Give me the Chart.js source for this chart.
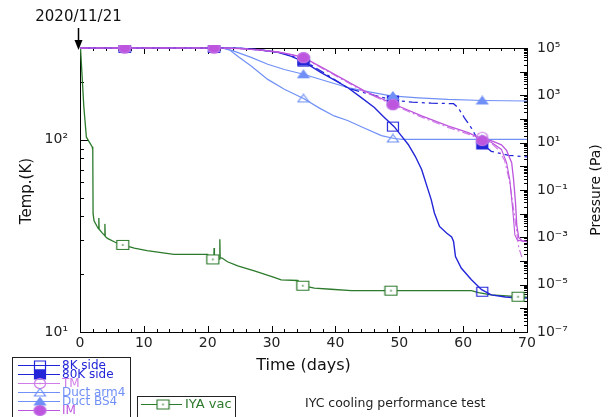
<!DOCTYPE html>
<html>
<head>
<meta charset="utf-8">
<script src="https://cdn.jsdelivr.net/npm/chart.js@4.4.1/dist/chart.umd.min.js"></script>
<style>
  html, body { margin: 0; padding: 0; background: #fff; }
  #wrap { width: 613px; height: 417px; }
</style>
</head>
<body>
<div id="wrap"><canvas id="coolingChart" width="613" height="417"></canvas></div>
<script>
const fontFamily = '"DejaVu Sans", "Liberation Sans", sans-serif';

// axis ticks
const dayTicks = [0, 10, 20, 30, 40, 50, 60, 70];
const tempTicks = [10, 100];
const tempTickLabels = ['10¹', '10²'];
const pressTicks = [1e-7, 1e-5, 1e-3, 1e-1, 1e1, 1e3, 1e5];
const pressTickLabels = ['10⁻⁷', '10⁻⁵', '10⁻³', '10⁻¹', '10¹', '10³', '10⁵'];

// marker days (temperature sensors)
const markerDays = [7, 21, 35, 49, 63];

// 8K side (K)
const side8kDays = [0, 22, 25, 28, 31, 33, 35, 37.7, 39.8, 41.9, 44, 46.1, 47.5, 49.2, 50.3, 51.4, 52.5, 53.5, 54.5, 55.0, 55.5, 56.3, 57.4, 58.2, 58.5, 58.8, 59.7, 61.3, 62.9, 64.4, 66.6, 68.6, 70];
const side8kTemp = [300, 300, 299, 294, 285, 272, 255, 224, 205, 187, 166, 147, 132, 117, 105, 94.5, 82, 70, 55, 48.8, 41.6, 35.4, 32.7, 31.2, 29.6, 24.7, 21.5, 18.7, 16.6, 15.6, 15.2, 15.0, 15.0];
const side8kMarks = [300, 300, 255, 117, 16.2];

// 80K side (K)
const side80kDays = [0, 22, 25, 28, 31, 33, 35, 38, 42, 45.5, 49.2, 52, 55, 58.5, 59.2, 60.2, 61.3, 62.3, 63.1, 64.4, 67.1, 70];
const side80kTemp = [300, 300, 299, 294, 285, 274, 258, 225, 185, 172, 160, 157, 155, 154, 147, 130, 115, 100, 94.5, 87, 83, 81.5];
const side80kMarks = [300, 300, 258, 160, 94.5];

// TM (K)
const tmDays = [0, 22, 25, 28, 31, 33, 35, 39.3, 44.6, 49.2, 53.5, 57.6, 60.8, 62.9, 64.4, 65.5, 66.5, 67.3, 67.8, 68.3, 68.7, 69.2];
const tmTemp = [300, 300, 298, 293, 286, 277, 266, 222, 177, 151, 131, 116, 107, 100, 96, 89, 78, 60, 46, 35, 27.5, 24.5];
const tmMarks = [300, 300, 268, 153, 103];

// IM (K)
const imDays = [0, 22, 25, 28, 31, 33, 35, 39.3, 44.6, 49.2, 53.5, 57.6, 60.8, 62.9, 64.4, 66.0, 66.8, 67.6, 67.9, 68.2, 68.4, 68.7, 69.2, 70];
const imTemp = [300, 300, 298, 293, 286, 278, 268, 224, 179, 153, 133, 118, 109, 101, 99, 94, 88, 76, 62, 47, 36, 31, 29.8, 29.5];
const imMarks = [300, 300, 267, 152, 99];

// second IM trace, end of run
const im2Days = [62.9, 64.4, 66.0, 66.8, 67.3, 67.8, 68.1, 68.5, 70];
const im2Temp = [101, 97, 89, 76, 62, 42, 32, 30, 29.5];

// Duct arm4 (K)
const arm4Days = [0, 22.3, 23.5, 24.8, 26.8, 29.4, 32, 35, 37.5, 39.8, 41.9, 44.5, 47.2, 49.2, 50.5, 70];
const arm4Temp = [300, 300, 292, 270, 242, 206, 183, 164, 146, 133, 126, 115, 105, 101.5, 100.5, 100.5];
const arm4Marks = [300, 300, 164, 101.5, 100.5];

// Duct BS4 (K)
const bs4Days = [0, 22.3, 24, 26.8, 29.4, 32, 35, 38.5, 41.9, 45.5, 48.7, 53, 57.6, 63.1, 70];
const bs4Temp = [300, 300, 290, 268, 247, 232, 219, 202, 187, 177, 169, 165, 162, 160, 159];
const bs4Marks = [300, 300, 219, 169, 160];

// IYA vac (Pa)
const vacDays = [0, 0.1, 0.6, 1.0, 1.9, 2.0, 2.05, 2.2, 2.7, 2.9, 2.95, 3.0, 3.5, 3.85, 3.9, 3.95, 4.3, 5.5, 6.7, 8.5, 10.5, 14.7, 20.0, 20.3, 20.8, 20.95, 21.0, 21.05, 21.8, 21.9, 21.95, 22.3, 23.1, 24.7, 27.3, 30.4, 31.5, 34.1, 34.9, 36.7, 39.3, 42.5, 48.7, 61.3, 62.4, 64.4, 68.6, 70];
const vacPress = [1e5, 8e4, 330, 17, 6.8, 5, 1e-2, 5e-3, 2.8e-3, 2.3e-3, 6.6e-3, 2.2e-3, 1.5e-3, 1.2e-3, 3.7e-3, 1.1e-3, 9e-4, 6.2e-4, 4.8e-4, 3.5e-4, 2.75e-4, 1.9e-4, 1.9e-4, 1.3e-4, 1.17e-4, 1.2e-4, 3.5e-4, 1.2e-4, 1.2e-4, 8.3e-4, 1.4e-4, 1.3e-4, 9.3e-5, 6.2e-5, 3.8e-5, 2.05e-5, 1.6e-5, 1.5e-5, 9e-6, 7.1e-6, 6.4e-6, 5.6e-6, 5.6e-6, 5.6e-6, 4.6e-6, 3.7e-6, 3.1e-6, 3.0e-6];
const vacMarkDays = [6.7, 20.8, 34.9, 48.7, 68.6];
const vacMarks = [4.8e-4, 1.17e-4, 9e-6, 5.6e-6, 3.1e-6];

const darkBlue = '#2326d8';
const violet = '#bd55de';
const lightViolet = '#cf7ce8';
const lightBlue = '#7090f6';
const green = '#2c7a2c';

function toPoints(xs, ys) {
  return xs.map((x, i) => ({ x: x, y: ys[i] }));
}

// small canvas images used as point styles (and legend symbols)
function makeMarker(shape, stroke, fill, w, h, dot) {
  const c = document.createElement('canvas');
  c.width = w + 2;
  c.height = h + 2;
  const g = c.getContext('2d');
  g.lineWidth = 1.2;
  g.strokeStyle = stroke;
  g.beginPath();
  if (shape === 'square') {
    g.rect(1.5, 1.5, w - 1, h - 1);
  } else if (shape === 'circle') {
    g.ellipse(c.width / 2, c.height / 2, w / 2 - 0.5, h / 2 - 0.5, 0, 0, Math.PI * 2);
  } else {
    g.moveTo(c.width / 2, 1);
    g.lineTo(w + 0.5, h + 0.5);
    g.lineTo(1.5, h + 0.5);
    g.closePath();
  }
  if (fill) {
    g.fillStyle = fill;
    g.fill();
  }
  g.stroke();
  if (dot) {
    g.fillStyle = stroke;
    g.fillRect(c.width / 2 - 0.75, c.height / 2 - 0.75, 1.5, 1.5);
  }
  return c;
}

const mk8k = makeMarker('square', darkBlue, null, 12, 10, false);
const mk80k = makeMarker('square', darkBlue, darkBlue, 12, 10, false);
const mkTm = makeMarker('circle', lightViolet, null, 12, 11, true);
const mkIm = makeMarker('circle', '#c070e4', violet, 13, 11, false);
const mkArm4 = makeMarker('triangle', lightBlue, null, 12, 8, false);
const mkBs4 = makeMarker('triangle', lightBlue, lightBlue, 12, 8, false);
const mkVac = makeMarker('square', green, '#fff', 13, 10, true);

const markClip = { left: 10, top: 3, right: 10, bottom: 10 };
const lineClip = { left: 0, top: 1, right: 0, bottom: 0 };

function lineSet(label, xs, ys, color, width, dash, axis) {
  return {
    label: label,
    data: toPoints(xs, ys),
    yAxisID: axis,
    borderColor: color,
    borderWidth: width,
    borderDash: dash || [],
    pointRadius: 0,
    tension: 0,
    fill: false,
    clip: lineClip
  };
}

function markSet(label, xs, ys, img, axis) {
  return {
    label: label,
    data: toPoints(xs, ys),
    yAxisID: axis,
    showLine: false,
    pointStyle: img,
    pointRadius: 6,
    clip: markClip
  };
}

// first dataset is drawn on top
const datasets = [
  markSet('IM marks', markerDays, imMarks, mkIm, 'y'),
  markSet('TM marks', markerDays, tmMarks, mkTm, 'y'),
  markSet('Duct BS4 marks', markerDays, bs4Marks, mkBs4, 'y'),
  markSet('Duct arm4 marks', markerDays, arm4Marks, mkArm4, 'y'),
  markSet('80K side marks', markerDays, side80kMarks, mk80k, 'y'),
  markSet('8K side marks', markerDays, side8kMarks, mk8k, 'y'),
  markSet('IYA vac marks', vacMarkDays, vacMarks, mkVac, 'y2'),
  lineSet('IM', imDays, imTemp, violet, 1.3, null, 'y'),
  lineSet('IM b', im2Days, im2Temp, violet, 1.1, null, 'y'),
  lineSet('TM', tmDays, tmTemp, lightViolet, 1.2, [8, 3, 2, 3], 'y'),
  lineSet('80K side', side80kDays, side80kTemp, darkBlue, 1.3, [9, 4, 3, 4], 'y'),
  lineSet('8K side', side8kDays, side8kTemp, darkBlue, 1.4, null, 'y'),
  lineSet('Duct BS4', bs4Days, bs4Temp, lightBlue, 1.2, null, 'y'),
  lineSet('Duct arm4', arm4Days, arm4Temp, lightBlue, 1.2, null, 'y'),
  lineSet('IYA vac', vacDays, vacPress, green, 1.3, null, 'y2')
];

function strokeLine(ctx, x1, y1, x2, y2) {
  ctx.beginPath();
  ctx.moveTo(x1, y1);
  ctx.lineTo(x2, y2);
  ctx.stroke();
}

// frame on top and inward tick marks on all four sides
const frameTicks = {
  id: 'frameTicks',
  beforeDatasetsDraw(chart) {
    const { ctx, chartArea: a, scales } = chart;
    ctx.save();
    ctx.strokeStyle = '#000';
    ctx.lineWidth = 1;
    strokeLine(ctx, a.left, Math.round(a.top) + 0.5, a.right, Math.round(a.top) + 0.5);
    for (let d = 0; d <= 70; d += 2) {
      const px = Math.round(scales.x.getPixelForValue(d)) + 0.5;
      const len = d % 10 === 0 ? 6 : 3;
      strokeLine(ctx, px, a.bottom, px, a.bottom - len);
      strokeLine(ctx, px, a.top, px, a.top + len);
    }
    const tempMinor = [20, 30, 40, 50, 60, 70, 80, 90, 200];
    tempTicks.forEach(v => {
      const py = Math.round(scales.y.getPixelForValue(v)) + 0.5;
      strokeLine(ctx, a.left, py, a.left + 8, py);
    });
    tempMinor.forEach(v => {
      const py = Math.round(scales.y.getPixelForValue(v)) + 0.5;
      strokeLine(ctx, a.left, py, a.left + 4, py);
    });
    for (let e = -7; e <= 5; e++) {
      const py = Math.round(scales.y2.getPixelForValue(Math.pow(10, e))) + 0.5;
      strokeLine(ctx, a.right, py, a.right - 7, py);
      if (e === 5) continue;
      for (let m = 2; m <= 9; m++) {
        const my = Math.round(scales.y2.getPixelForValue(m * Math.pow(10, e))) + 0.5;
        strokeLine(ctx, a.right, my, a.right - 3, my);
      }
    }
    ctx.restore();
  }
};

const legendItems = [
  { text: '8K side', color: darkBlue, img: mk8k, dash: [] },
  { text: '80K side', color: darkBlue, img: mk80k, dash: [] },
  { text: 'TM', color: lightViolet, img: mkTm, dash: [] },
  { text: 'Duct arm4', color: lightBlue, img: mkArm4, dash: [] },
  { text: 'Duct BS4', color: lightBlue, img: mkBs4, dash: [] },
  { text: 'IM', color: violet, img: mkIm, dash: [] }
];

// titles, date annotation and the two legend boxes
const decorations = {
  id: 'decorations',
  afterDraw(chart) {
    const { ctx, chartArea: a, scales } = chart;
    ctx.save();
    ctx.fillStyle = '#111';
    ctx.textAlign = 'center';
    ctx.textBaseline = 'middle';

    ctx.font = '16px ' + fontFamily;
    ctx.fillText('Time (days)', (a.left + a.right) / 2, 366);

    ctx.save();
    ctx.translate(27, 191);
    ctx.rotate(-Math.PI / 2);
    ctx.font = '15px ' + fontFamily;
    ctx.fillText('Temp.(K)', 0, 0);
    ctx.restore();

    ctx.save();
    ctx.translate(596, 190);
    ctx.rotate(-Math.PI / 2);
    ctx.font = '14px ' + fontFamily;
    ctx.fillText('Pressure (Pa)', 0, 0);
    ctx.restore();

    // start date arrow
    const ax = Math.round(scales.x.getPixelForValue(0)) - 1.5;
    ctx.font = '15px ' + fontFamily;
    ctx.fillText('2020/11/21', ax, 17);
    ctx.strokeStyle = '#000';
    ctx.lineWidth = 1.5;
    strokeLine(ctx, ax, 28, ax, 42);
    ctx.fillStyle = '#000';
    ctx.beginPath();
    ctx.moveTo(ax - 4, 40);
    ctx.lineTo(ax + 4, 40);
    ctx.lineTo(ax, 50);
    ctx.closePath();
    ctx.fill();

    // legend box 1
    ctx.lineWidth = 1;
    ctx.strokeStyle = '#222';
    ctx.strokeRect(12.5, 357.5, 118, 70);
    ctx.textAlign = 'left';
    ctx.font = '12px ' + fontFamily;
    legendItems.forEach((it, i) => {
      const ly = 365 + i * 9;
      ctx.strokeStyle = it.color;
      ctx.lineWidth = 1.2;
      strokeLine(ctx, 18, ly + 0.5, 60, ly + 0.5);
      ctx.drawImage(it.img, 40 - it.img.width / 2, ly - it.img.height / 2 + 0.5);
      ctx.fillStyle = it.color;
      ctx.fillText(it.text, 62, ly + 1);
    });

    // legend box 2
    ctx.strokeStyle = '#222';
    ctx.lineWidth = 1;
    ctx.strokeRect(137.5, 396.5, 98, 30);
    ctx.strokeStyle = green;
    ctx.lineWidth = 1.2;
    strokeLine(ctx, 141, 404.5, 182, 404.5);
    ctx.drawImage(mkVac, 163 - mkVac.width / 2, 404.5 - mkVac.height / 2);
    ctx.fillStyle = green;
    ctx.font = '13px ' + fontFamily;
    ctx.fillText('IYA vac', 185, 405);

    ctx.fillStyle = '#222';
    ctx.font = '12.5px ' + fontFamily;
    ctx.fillText('IYC cooling performance test', 305, 404);
    ctx.restore();
  }
};

const tickFont = { family: fontFamily, size: 14 };

new Chart(document.getElementById('coolingChart'), {
  type: 'line',
  data: { datasets: datasets },
  options: {
    responsive: false,
    animation: false,
    devicePixelRatio: 1,
    events: [],
    parsing: true,
    layout: { padding: { top: 48, bottom: 55, left: 0, right: 0 } },
    plugins: {
      legend: { display: false },
      tooltip: { enabled: false }
    },
    scales: {
      x: {
        type: 'linear',
        min: 0,
        max: 70,
        afterBuildTicks: s => { s.ticks = dayTicks.map(v => ({ value: v })); },
        afterFit: s => { s.height = 30; },
        ticks: { font: tickFont, color: '#222', padding: 3, maxRotation: 0, autoSkip: false },
        grid: { drawOnChartArea: false, drawTicks: false },
        border: { display: true, color: '#000', width: 1 }
      },
      y: {
        type: 'logarithmic',
        position: 'left',
        min: 10,
        max: 300,
        afterBuildTicks: s => { s.ticks = tempTicks.map(v => ({ value: v })); },
        afterFit: s => { s.width = 80; },
        ticks: {
          font: tickFont, color: '#222', padding: 12, autoSkip: false,
          callback: v => tempTickLabels[tempTicks.indexOf(v)]
        },
        grid: { drawOnChartArea: false, drawTicks: false },
        border: { display: true, color: '#000', width: 1 }
      },
      y2: {
        type: 'logarithmic',
        position: 'right',
        min: 1e-7,
        max: 1e5,
        afterBuildTicks: s => { s.ticks = pressTicks.map(v => ({ value: v })); },
        afterFit: s => { s.width = 86; },
        ticks: {
          font: tickFont, color: '#222', padding: 10, autoSkip: false,
          callback: v => pressTickLabels[pressTicks.indexOf(v)]
        },
        grid: { drawOnChartArea: false, drawTicks: false },
        border: { display: true, color: '#000', width: 1 }
      }
    }
  },
  plugins: [frameTicks, decorations]
});
</script>
</body>
</html>
